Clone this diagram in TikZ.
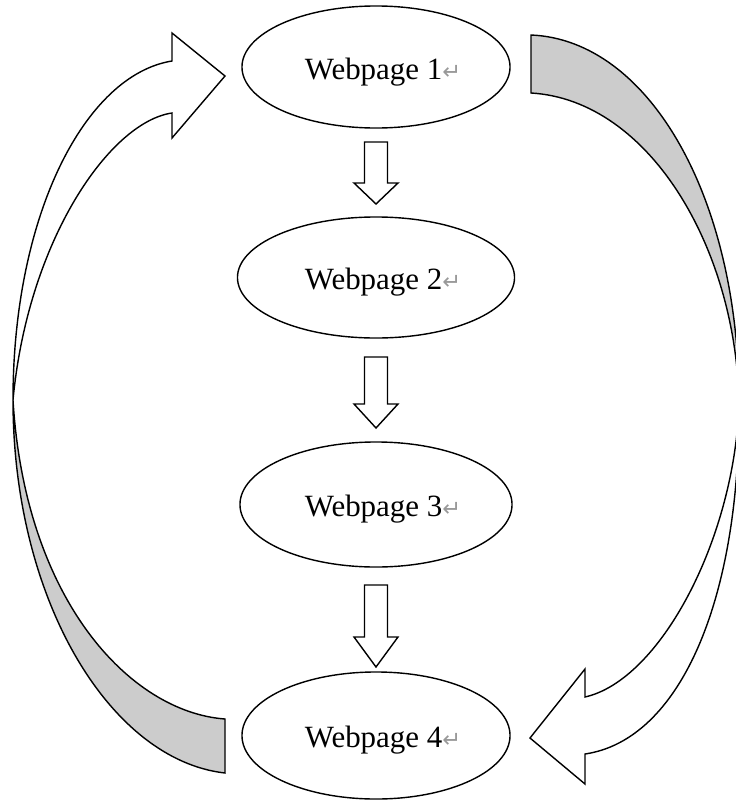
\documentclass[tikz,border=0pt]{standalone}
\usepackage{fontspec}
\setmainfont{Liberation Serif}
\newfontfamily\arrowfont{DejaVu Sans}
\usepackage{xcolor}
\usepackage{tikz}
\usetikzlibrary{shapes.geometric,calc}
\newcommand{\ret}{{\arrowfont\fontsize{16}{16}\selectfont\textcolor{gray!80}{↵}}}

\begin{document}
\begin{tikzpicture}[x=0.025cm, y=-0.025cm, line join=miter,
	page/.style={draw, ellipse, line width=1pt, inner sep=0pt},
	pagetext/.style={anchor=base, font=\fontsize{22}{26}\selectfont},
	band/.style={draw, line width=1pt, fill=gray!40},
	front/.style={draw, line width=1pt, fill=white}]
	\useasboundingbox (0,0) rectangle (736,803);
	\clip (0,0) rectangle (736,803);
	% Các trang web
	\foreach \i/\y/\w/\h in {1/67/6.7/3.05, 2/277.5/6.925/3.025, 3/504.5/6.8/3.125, 4/735.5/6.7/3.175} {
		\node[page, minimum width=\w cm, minimum height=\h cm] (w\i) at (376,\y) {};
		\node[pagetext] (t\i) at ($(w\i)+(7,12)$) {Webpage \i\ret};
	}
	% Mũi tên xuống
	\foreach \t/\m/\b in {142/183/204, 357/404/428, 585/637/667}
		\draw[front] (364.5,\t) -- (387.5,\t) -- (387.5,\m) -- (398,\m) -- (376,\b) -- (354,\m) -- (364.5,\m) -- cycle;
	% Mũi tên cong bên trái
	\draw[band] (13,400) .. controls (13,600) and (110,760) .. (225,773) -- (225,719) .. controls (130,712) and (25,600) .. (13,400) -- cycle;
	\draw[front] (13,400) .. controls (13,215) and (85,75) .. (172,61) -- (172,33) -- (225,76) -- (172,138) -- (172,113) .. controls (110,122) and (28,240) .. (13,400) -- cycle;
	% Mũi tên cong bên phải
	\draw[band] (531,35) .. controls (650,40) and (740,200) .. (739,405) .. controls (737,250) and (650,100) .. (531,93) -- cycle;
	\draw[front] (739,405) .. controls (734,540) and (660,680) .. (585,697) -- (585,669) -- (530,738) -- (585,784) -- (585,754) .. controls (680,740) and (740,600) .. (739,405) -- cycle;
\end{tikzpicture}
\end{document}
